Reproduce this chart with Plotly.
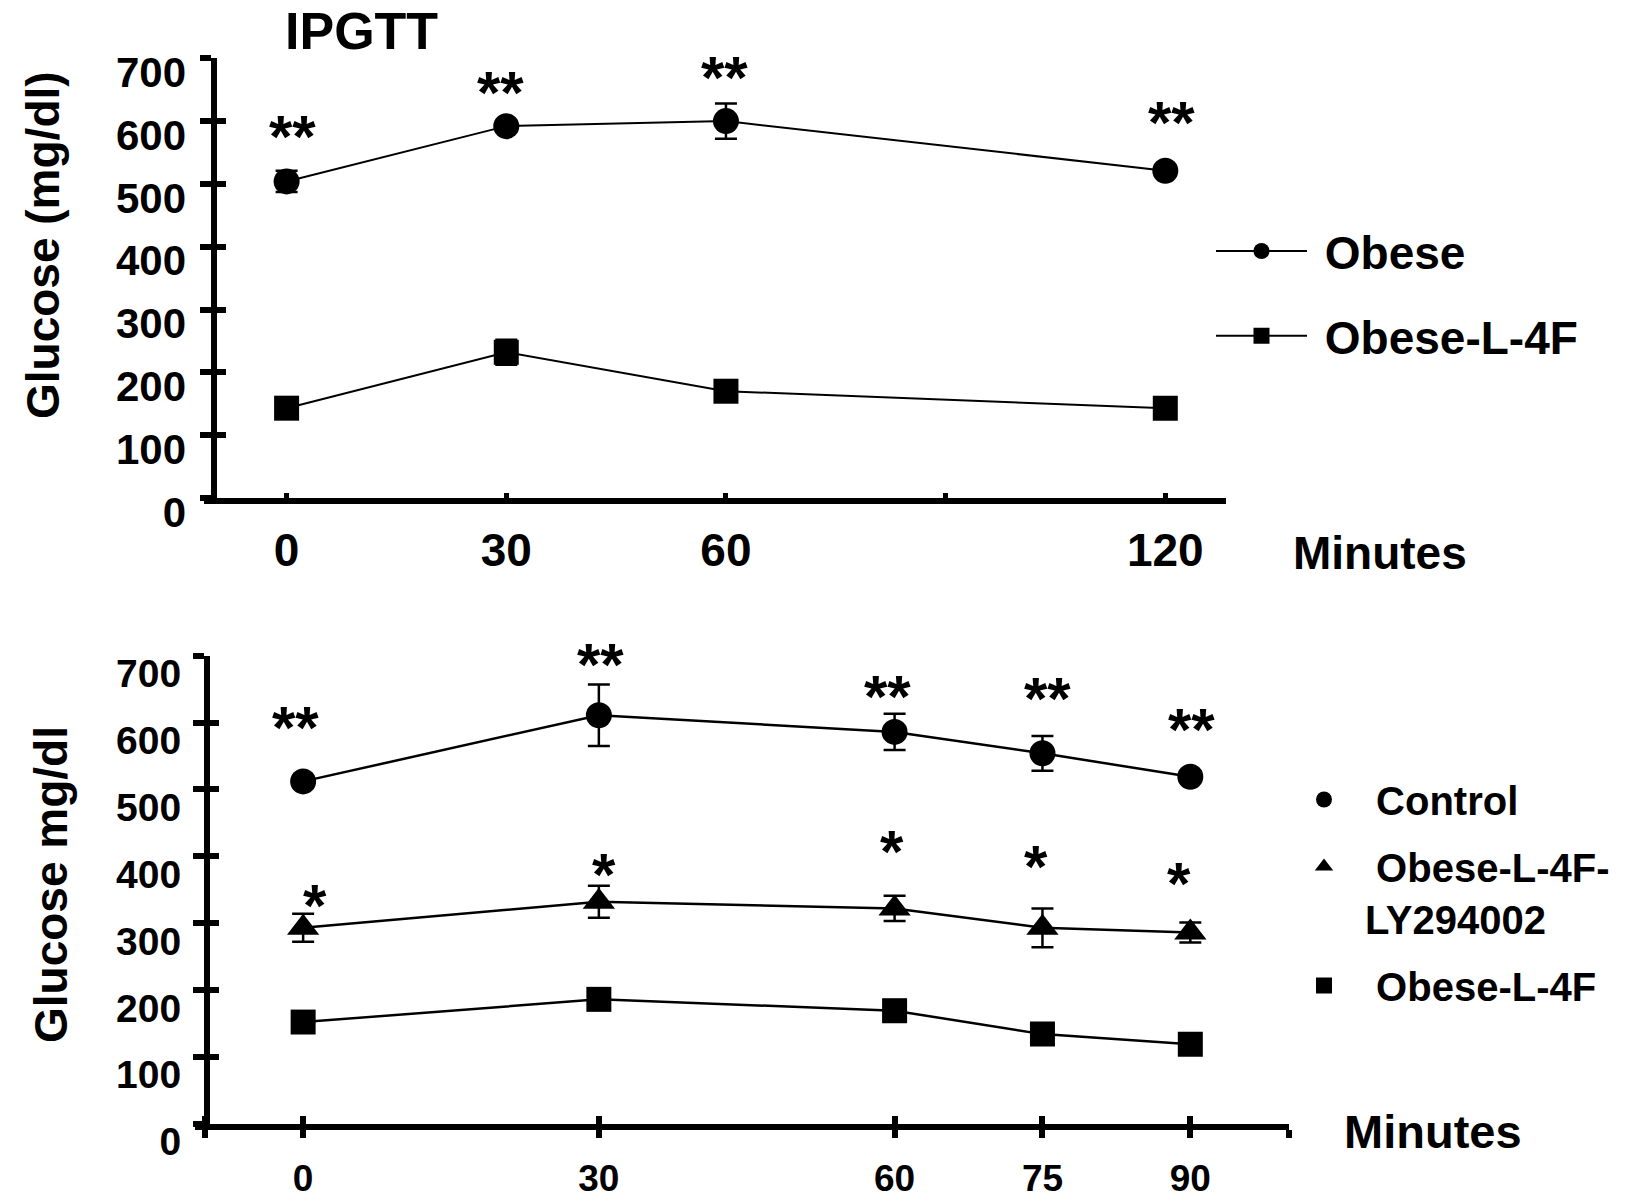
import plotly.graph_objects as go

W, H = 1638, 1202
FONT = "Liberation Sans, Arial, Helvetica, sans-serif"

# ---------------- data: top panel (IPGTT) ----------------
top_minutes = [0, 30, 60, 120]
top_obese = [504, 592, 600, 521]
top_obese_err = [17, 8, 28, 8]
top_l4f = [143, 232, 170, 143]
top_l4f_err = [5, 20, 5, 5]
top_x_tickvals = [0, 30, 60, 90, 120]
top_x_ticktext = ["0", "30", "60", "", "120"]
top_star_x = [0.8, 29.2, 59.8, 120.9]
top_star_y = [592, 662, 686, 613]
top_star_text = ["**", "**", "**", "**"]

# ---------------- data: bottom panel ----------------
bot_minutes = [0, 30, 60, 75, 90]
bot_control = [512, 611, 586, 554, 519]
bot_control_err = [8, 46, 27, 26, 8]
bot_ly = [293, 332, 322, 293, 286]
bot_ly_err = [21, 24, 19, 29, 15]
bot_l4f = [152, 186, 169, 134, 119]
bot_l4f_err = [4, 4, 4, 4, 4]
bot_x_tickvals = [-10, 0, 30, 60, 75, 90, 100]
bot_x_ticktext = ["", "0", "30", "60", "75", "90", ""]
bot_star2_x = [-0.8, 30.2, 59.3, 75.5, 90.1]
bot_star2_y = [603, 697, 649, 646, 600]
bot_star1_x = [1.25, 30.5, 59.7, 74.3, 88.9]
bot_star1_y = [343, 389, 423, 401, 375]

y_tickvals = [0, 100, 200, 300, 400, 500, 600, 700]
y_ticktext = [str(v) for v in y_tickvals]


def pxx(x):
    return x / W


def pyy(y):
    return 1 - y / H


fig = go.Figure()

# ---------------- top traces ----------------
fig.add_trace(go.Scatter(
    x=top_minutes, y=top_obese, name="\u00a0Obese", mode="lines+markers",
    xaxis="x", yaxis="y", legend="legend", legendgroup="a",
    line=dict(color="black", width=2),
    marker=dict(symbol="circle", size=26, color="black"),
    error_y=dict(type="data", array=top_obese_err, color="black", thickness=2.5, width=11),
))
fig.add_trace(go.Scatter(
    x=top_minutes, y=top_l4f, name="\u00a0Obese-L-4F", mode="lines+markers",
    xaxis="x", yaxis="y", legend="legend", legendgroup="b",
    line=dict(color="black", width=2),
    marker=dict(symbol="square", size=25, color="black"),
    error_y=dict(type="data", array=top_l4f_err, color="black", thickness=2.5, width=11),
))

# ---------------- bottom traces (lines without legend, markers with legend) ----------------
bot_series = [
    ("\u00a0Control", bot_control, bot_control_err, "circle", 26, "c"),
    ("\u00a0Obese-L-4F-<br>LY294002", bot_ly, bot_ly_err, "triangle-up", 28, "d"),
    ("\u00a0Obese-L-4F", bot_l4f, bot_l4f_err, "square", 25, "e"),
]
for name, vals, errs, sym, sz, grp in bot_series:
    fig.add_trace(go.Scatter(
        x=bot_minutes, y=vals, mode="lines", xaxis="x2", yaxis="y2",
        line=dict(color="black", width=2.5), showlegend=False, hoverinfo="skip",
    ))
for name, vals, errs, sym, sz, grp in bot_series:
    fig.add_trace(go.Scatter(
        x=bot_minutes, y=vals, name=name, mode="markers", xaxis="x2", yaxis="y2",
        legend="legend2", legendgroup=grp,
        marker=dict(symbol=sym, size=sz, color="black"),
        error_y=dict(type="data", array=errs, color="black", thickness=2.5, width=11),
    ))

# empty traces so the overlay tick axes exist
fig.add_trace(go.Scatter(x=[], y=[], xaxis="x", yaxis="y3", showlegend=False, hoverinfo="skip"))
fig.add_trace(go.Scatter(x=[], y=[], xaxis="x2", yaxis="y4", showlegend=False, hoverinfo="skip"))
fig.add_trace(go.Scatter(x=[], y=[], xaxis="x3", yaxis="y2", showlegend=False, hoverinfo="skip"))

tickfont_y = dict(family=FONT, size=42, color="black", weight="bold")

# axis geometry
top_x_left, top_x_right = 204, 1225.7
top_x0, top_scale = 286.6, 7.3225
top_range = [(top_x_left - top_x0) / top_scale, (top_x_right - top_x0) / top_scale]
top_y_dom = [pyy(498), pyy(58.3)]

bot_x_left, bot_x_right = 194.7, 1288.9
bot_range = [-11, 100]
bot_y_dom = [pyy(1123.7), pyy(655.7)]

common_y = dict(range=[0, 700], tickvals=y_tickvals, showgrid=False, zeroline=False,
                tickcolor="black", tickwidth=6, ticklen=11, automargin=False)

fig.update_layout(
    width=W, height=H, margin=dict(l=0, r=0, t=0, b=0, autoexpand=False),
    paper_bgcolor="white", plot_bgcolor="rgba(0,0,0,0)",
    font=dict(family=FONT, color="black"),
    showlegend=True,
    xaxis=dict(domain=[pxx(top_x_left), pxx(top_x_right)], range=top_range, anchor="y",
               showline=True, linewidth=6, linecolor="black", showgrid=False, zeroline=False,
               tickvals=top_x_tickvals, ticktext=top_x_ticktext, ticks="inside", ticklen=5,
               tickwidth=5, tickcolor="black", ticklabelstandoff=7, automargin=False,
               tickfont=dict(family=FONT, size=46, color="black", weight="bold")),
    yaxis=dict(domain=top_y_dom, anchor="free", position=pxx(214.4), side="left",
               showline=True, linewidth=6, linecolor="black", ticks="outside",
               ticktext=y_ticktext, ticklabelshift=14, ticklabelstandoff=6,
               tickfont=tickfont_y, **common_y),
    yaxis3=dict(overlaying="y", anchor="free", position=pxx(214.4), side="left",
                showline=False, ticks="inside", showticklabels=False, **common_y),
    xaxis2=dict(domain=[pxx(bot_x_left), pxx(bot_x_right)], range=bot_range, anchor="y2",
                showline=True, linewidth=6, linecolor="black", showgrid=False, zeroline=False,
                tickvals=bot_x_tickvals, ticktext=bot_x_ticktext, ticks="outside", ticklen=8,
                tickwidth=6, tickcolor="black", ticklabelstandoff=9, automargin=False,
                tickfont=dict(family=FONT, size=37, color="black", weight="bold")),
    xaxis3=dict(overlaying="x2", anchor="y2", range=bot_range, showline=False, showgrid=False,
                zeroline=False, tickvals=bot_x_tickvals, ticks="inside", ticklen=8, tickwidth=6,
                tickcolor="black", showticklabels=False, automargin=False),
    yaxis2=dict(domain=bot_y_dom, anchor="free", position=pxx(207), side="left",
                showline=True, linewidth=6, linecolor="black", ticks="outside",
                ticktext=y_ticktext, ticklabelshift=18, ticklabelstandoff=4,
                tickfont=dict(family=FONT, size=39, color="black", weight="bold"), **common_y),
    yaxis4=dict(overlaying="y2", anchor="free", position=pxx(207), side="left",
                showline=False, ticks="inside", showticklabels=False, **common_y),
    legend=dict(x=pxx(1211), y=pyy(214.6), xanchor="left", yanchor="top",
                bgcolor="rgba(0,0,0,0)", borderwidth=0, itemwidth=91, tracegroupgap=22,
                font=dict(family=FONT, size=46, color="black", weight="bold")),
    legend2=dict(x=pxx(1283), y=pyy(767), xanchor="left", yanchor="top",
                 bgcolor="rgba(0,0,0,0)", borderwidth=0, itemwidth=72, tracegroupgap=12,
                 valign="top",
                 font=dict(family=FONT, size=40, color="black", weight="bold")),
)

ann = []
bold = lambda s: dict(family=FONT, size=s, color="black", weight="bold")
for x, y, t in zip(top_star_x, top_star_y, top_star_text):
    ann.append(dict(x=x, y=y, xref="x", yref="y", text=t, showarrow=False,
                    font=bold(60), yshift=-10))
for x, y in zip(bot_star2_x, bot_star2_y):
    ann.append(dict(x=x, y=y, xref="x2", yref="y2", text="**", showarrow=False,
                    font=bold(60), yshift=-7))
for x, y in zip(bot_star1_x, bot_star1_y):
    ann.append(dict(x=x, y=y, xref="x2", yref="y2", text="*", showarrow=False,
                    font=bold(60), yshift=-11))

ann += [
    dict(x=pxx(361.7), y=pyy(30.6), xref="paper", yref="paper", text="IPGTT",
         showarrow=False, font=bold(52), xanchor="center", yanchor="middle"),
    dict(x=pxx(43), y=pyy(245), xref="paper", yref="paper", text="Glucose (mg/dl)",
         showarrow=False, font=bold(46), textangle=-90, xanchor="center", yanchor="middle"),
    dict(x=pxx(1380), y=pyy(553), xref="paper", yref="paper", text="Minutes",
         showarrow=False, font=bold(46), xanchor="center", yanchor="middle"),
    dict(x=pxx(51), y=pyy(885), xref="paper", yref="paper", text="Glucose mg/dl",
         showarrow=False, font=bold(46), textangle=-90, xanchor="center", yanchor="middle"),
    dict(x=pxx(1433), y=pyy(1131), xref="paper", yref="paper", text="Minutes",
         showarrow=False, font=bold(47), xanchor="center", yanchor="middle"),
]
fig.update_layout(annotations=ann)

fig.write_html("out.html")
